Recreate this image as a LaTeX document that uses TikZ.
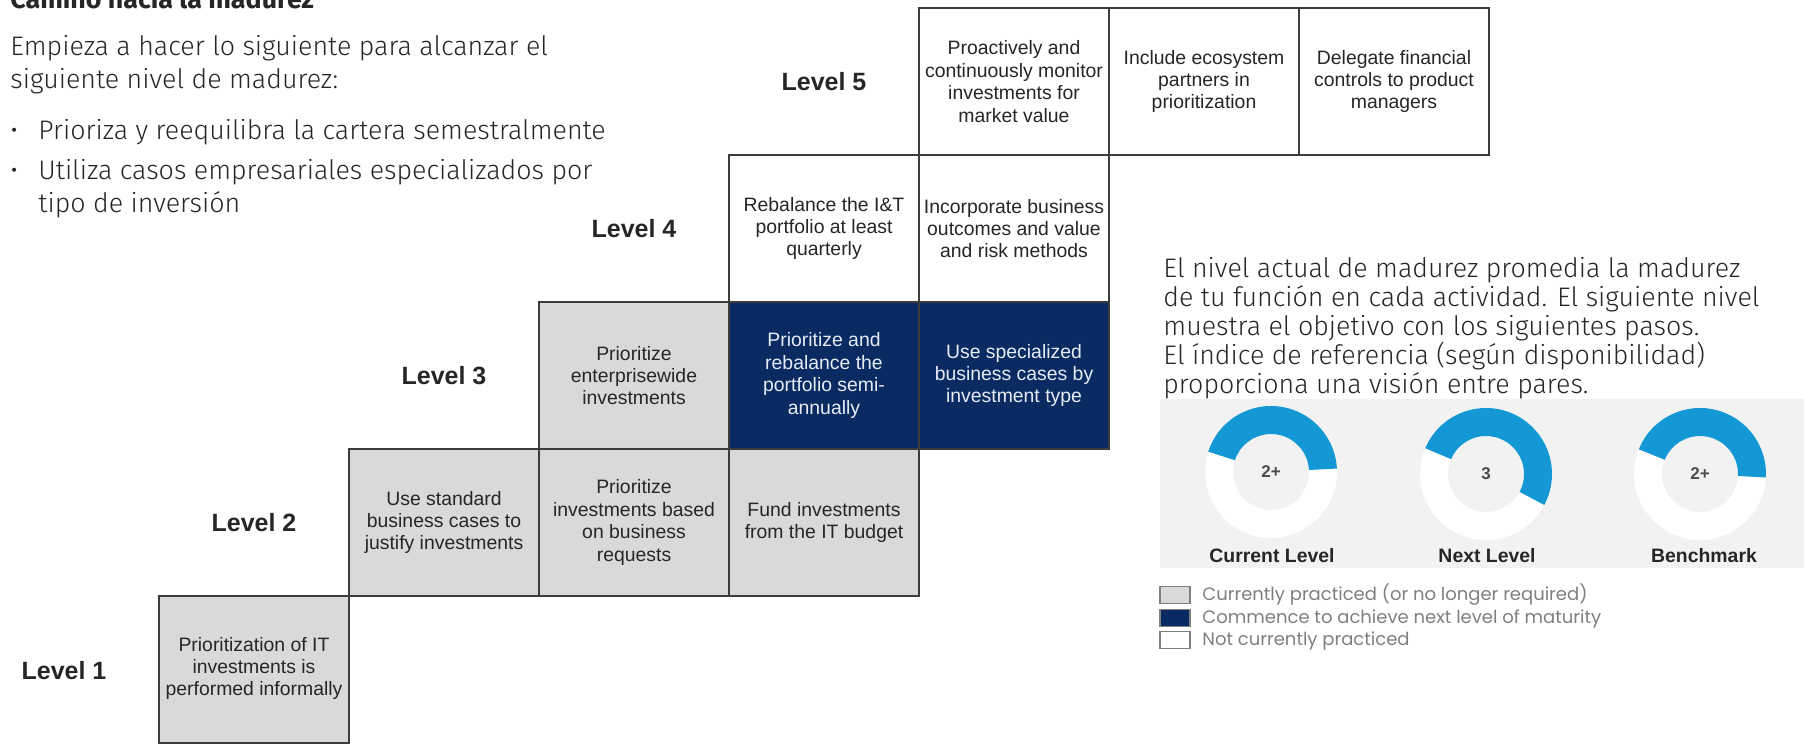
\documentclass[tikz,border=0pt]{standalone}
\usepackage{fontspec}
\setmainfont{Liberation Sans}
\newfontfamily\bodyfont{Fira Sans Light}
\newfontfamily\headfont{Fira Sans}
\newfontfamily\keyfont{Poppins}
\usepackage{tikz}

\definecolor{navy}{HTML}{0A2B61}
\definecolor{cellgray}{HTML}{D9D9D9}
\definecolor{cellline}{HTML}{3C3C3C}
\definecolor{inktext}{HTML}{262626}
\definecolor{navytext}{HTML}{E6ECF5}
\definecolor{gaugeblue}{HTML}{1497D5}
\definecolor{panelgray}{HTML}{F2F2F2}
\definecolor{keygray}{HTML}{7F7F7F}

\newcommand{\boxtext}{\fontsize{9.7}{11.2}\selectfont}
\newcommand{\bodytext}{\bodyfont\fontsize{13.4}{16.5}\selectfont}

\begin{document}
\begin{tikzpicture}[x=0.5pt,y=0.5pt,
  cell/.style={draw=cellline,line width=1pt,minimum width=95pt,minimum height=73.5pt,
    align=center,font=\boxtext,text=inktext},
  donecell/.style={cell,fill=cellgray},
  nextcell/.style={cell,fill=navy,text=navytext},
  opencell/.style={cell,fill=white},
  lvl/.style={font=\bfseries\fontsize{12.5}{15}\selectfont,text=inktext},
  prose/.style={font=\bodytext,align=left,text=inktext,anchor=base west},
  gaugenum/.style={font=\bfseries\fontsize{8.5}{10}\selectfont,text=black!70},
  gaugelabel/.style={font=\bfseries\fontsize{9.7}{11}\selectfont,text=inktext},
  keybox/.style={draw=keygray,line width=0.75pt,minimum width=15pt,minimum height=8.5pt},
  keytext/.style={font=\keyfont\fontsize{9}{10}\selectfont,text=keygray,anchor=mid west}]
\tikzstyle{every node}+=[inner sep=0pt]
\useasboundingbox (0,0) rectangle (1804,-744);
\clip (0,0) rectangle (1804,-744);

% text on the left (base = last line)
\node[prose,font=\headfont\bfseries\fontsize{13.4}{16}\selectfont] (title) at (10,-9) {Camino hacia la madurez};
\node[prose] (intro) at (10,-88) {Empieza a hacer lo siguiente para alcanzar el\\siguiente nivel de madurez:};
\node[prose] (dot1) at (10,-139) {•};
\node[prose] (item1) at (38,-139) {Prioriza y reequilibra la cartera semestralmente};
\node[prose] (dot2) at (10,-179) {•};
\node[prose] (item2) at (38,-212) {Utiliza casos empresariales especializados por\\tipo de inversión};

% levels
\node[lvl] (lv1) at (64,-671) {Level 1};
\node[lvl] (lv2) at (254,-522.5) {Level 2};
\node[lvl] (lv3) at (444,-375.5) {Level 3};
\node[lvl] (lv4) at (634,-228.5) {Level 4};
\node[lvl] (lv5) at (824,-81.5) {Level 5};

\node[donecell,text depth=3pt] (l1a) at (254,-669.5) {Prioritization of IT\\investments is\\performed informally};

\node[donecell] (l2a) at (444,-522.5) {Use standard\\business cases to\\justify investments};
\node[donecell] (l2b) at (634,-522.5) {Prioritize\\investments based\\on business\\requests};
\node[donecell] (l2c) at (824,-522.5) {Fund investments\\from the IT budget};

\node[donecell] (l3a) at (634,-375.5) {Prioritize\\enterprisewide\\investments};
\node[nextcell] (l3b) at (824,-375.5) {Prioritize and\\rebalance the\\portfolio semi-\\annually};
\node[nextcell] (l3c) at (1014,-375.5) {Use specialized\\business cases by\\investment type};

\node[opencell] (l4a) at (824,-228.5) {Rebalance the I\&T\\portfolio at least\\quarterly};
\node[opencell] (l4b) at (1014,-228.5) {Incorporate business\\outcomes and value\\and risk methods};

\node[opencell] (l5a) at (1014,-81.5) {Proactively and\\continuously monitor\\investments for\\market value};
\node[opencell] (l5b) at (1204,-81.5) {Include ecosystem\\partners in\\prioritization};
\node[opencell] (l5c) at (1394,-81.5) {Delegate financial\\controls to product\\managers};

% right hand side
\node[prose,font=\bodyfont\fontsize{13.4}{14.5}\selectfont] (about) at (1163,-393) {El nivel actual de madurez promedia la madurez\\de tu función en cada actividad. El siguiente nivel\\muestra el objetivo con los siguientes pasos.\\El índice de referencia (según disponibilidad)\\proporciona una visión entre pares.};

\fill[panelgray] (1160,-399) rectangle (1804,-568);

\coordinate (g1) at (1271,-472);
\coordinate (g2) at (1486,-474);
\coordinate (g3) at (1700,-474);
\fill[white,even odd rule] (g1) circle[radius=66] (g1) circle[radius=38];
\fill[gaugeblue] (g1) ++(162:66) arc[start angle=162,end angle=3,radius=66] -- ++(183:28) arc[start angle=3,end angle=162,radius=38] -- cycle;
\fill[white,even odd rule] (g2) circle[radius=66] (g2) circle[radius=38];
\fill[gaugeblue] (g2) ++(157:66) arc[start angle=157,end angle=-28,radius=66] -- ++(152:28) arc[start angle=-28,end angle=157,radius=38] -- cycle;
\fill[white,even odd rule] (g3) circle[radius=66] (g3) circle[radius=38];
\fill[gaugeblue] (g3) ++(158:66) arc[start angle=158,end angle=-3,radius=66] -- ++(177:28) arc[start angle=-3,end angle=158,radius=38] -- cycle;

\node[gaugenum] (g1num) at (g1) {2+};
\node[gaugenum] (g2num) at (g2) {3};
\node[gaugenum] (g3num) at (g3) {2+};
\node[gaugelabel] (g1lab) at (1272,-556) {Current Level};
\node[gaugelabel] (g2lab) at (1487,-556) {Next Level};
\node[gaugelabel] (g3lab) at (1704,-556) {Benchmark};

% legend
\node[keybox,fill=cellgray] (k1) at (1175,-595) {};
\node[keytext] (k1t) at (1202,-595) {Currently practiced (or no longer required)};
\node[keybox,fill=navy] (k2) at (1175,-618) {};
\node[keytext] (k2t) at (1202,-618) {Commence to achieve next level of maturity};
\node[keybox,fill=white] (k3) at (1175,-640) {};
\node[keytext] (k3t) at (1202,-640) {Not currently practiced};
\end{tikzpicture}
\end{document}
